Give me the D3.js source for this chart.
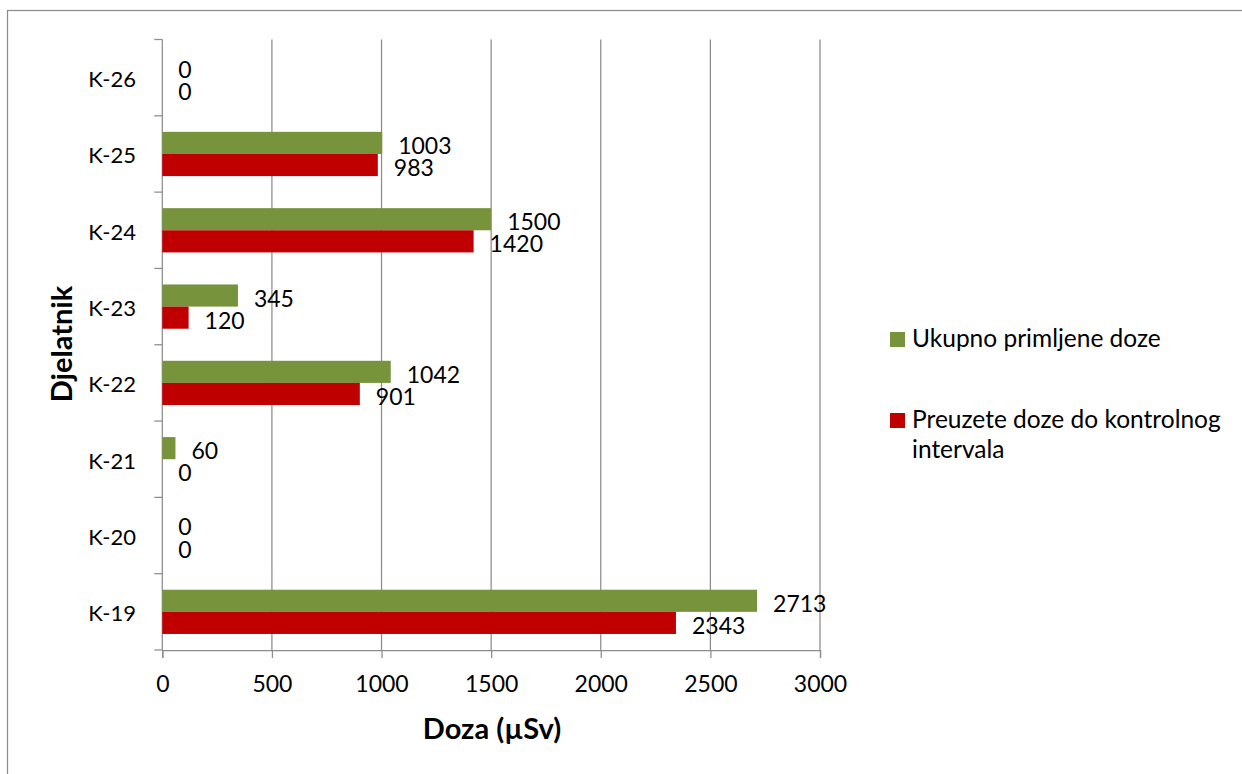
<!DOCTYPE html>
<html>
<head>
<meta charset="utf-8">
<script src="https://cdn.jsdelivr.net/npm/d3@7"></script>
<style>
    body { margin: 0; background: #fff; }
    svg { display: block; font-family: Lato, "Open Sans", sans-serif; }
</style>
</head>
<body>
<div id="chart"></div>
<script>
// values
var categories = ["K-26", "K-25", "K-24", "K-23", "K-22", "K-21", "K-20", "K-19"];
var ukupno = [0, 1003, 1500, 345, 1042, 60, 0, 2713];
var preuzete = [0, 983, 1420, 120, 901, 0, 0, 2343];
var xTicks = [0, 500, 1000, 1500, 2000, 2500, 3000];
var seriesNames = ["Ukupno primljene doze", "Preuzete doze do kontrolnog", "intervala"];
var seriesColors = ["#77933c", "#c00000"];

function drawChart() {
    var width = 1242, height = 774;
    var mLeft = 162.3, mRight = 820, mTop = 39.5, mBottom = 650;
    var gridColor = "#8c8c8c";
    var fs = 23;

    var svg = d3.select("#chart").append("svg")
        .attr("width", width)
        .attr("height", height);

    // outer chart border (right and bottom edges run off the page)
    svg.append("rect")
        .attr("x", 7.5).attr("y", 10.5)
        .attr("width", 1260).attr("height", 800)
        .attr("fill", "none")
        .attr("stroke", "#8c8c8c")
        .attr("stroke-width", 1.25);

    var x = d3.scaleLinear().domain([0, 3000]).range([mLeft, mRight]);
    var y = d3.scaleBand().domain(categories).range([mTop, mBottom])
        .paddingInner(0.42).paddingOuter(0.21);
    var ySub = d3.scaleBand().domain([0, 1]).range([0, y.bandwidth()]);

    // vertical gridlines
    svg.append("g")
        .selectAll("line")
        .data(xTicks.slice(1))
        .join("line")
        .attr("x1", d => x(d)).attr("x2", d => x(d))
        .attr("y1", mTop).attr("y2", mBottom)
        .attr("stroke", gridColor)
        .attr("stroke-width", 1.25);

    // x axis
    var xAxis = svg.append("g")
        .attr("transform", "translate(0," + mBottom + ")")
        .call(d3.axisBottom(x).tickValues(xTicks).tickFormat(d3.format("d")).tickSize(8).tickPadding(18));
    xAxis.select(".domain").attr("stroke", gridColor).attr("stroke-width", 1.25);
    xAxis.selectAll(".tick line").attr("stroke", gridColor).attr("stroke-width", 1.25);
    xAxis.selectAll("text")
        .attr("font-size", fs)
        .attr("font-family", "Lato, sans-serif")
        .attr("fill", "#000");

    // y axis: ticks sit on band boundaries
    var step = (mBottom - mTop) / categories.length;
    svg.append("line")
        .attr("x1", mLeft).attr("x2", mLeft)
        .attr("y1", mTop).attr("y2", mBottom)
        .attr("stroke", gridColor).attr("stroke-width", 1.25);
    svg.append("g")
        .selectAll("line")
        .data(d3.range(categories.length + 1))
        .join("line")
        .attr("x1", mLeft - 8).attr("x2", mLeft)
        .attr("y1", i => mTop + i * step).attr("y2", i => mTop + i * step)
        .attr("stroke", gridColor).attr("stroke-width", 1.25);

    svg.append("g")
        .selectAll("text")
        .data(categories)
        .join("text")
        .attr("x", 136)
        .attr("y", d => y(d) + y.bandwidth() / 2 + 1)
        .attr("text-anchor", "end")
        .attr("dominant-baseline", "central")
        .attr("font-size", 22)
        .text(d => d);

    // bars + value labels
    var series = [ukupno, preuzete];
    series.forEach(function (vals, s) {
        var g = svg.append("g");
        g.selectAll("rect")
            .data(categories)
            .join("rect")
            .attr("x", x(0))
            .attr("y", d => y(d) + ySub(s))
            .attr("width", (d, i) => x(vals[i]) - x(0))
            .attr("height", ySub.bandwidth())
            .attr("fill", seriesColors[s]);
        g.selectAll("text")
            .data(categories)
            .join("text")
            .attr("x", (d, i) => x(vals[i]) + 16)
            .attr("y", d => y(d) + ySub(s) + ySub.bandwidth() / 2 + 2)
            .attr("dominant-baseline", "central")
            .attr("font-size", fs)
            .text((d, i) => vals[i]);
    });

    // axis titles
    svg.append("text")
        .attr("x", 492).attr("y", 739)
        .attr("text-anchor", "middle")
        .attr("font-size", 29)
        .attr("font-weight", "bold")
        .text("Doza (µSv)");

    svg.append("text")
        .attr("transform", "translate(72,344) rotate(-90)")
        .attr("text-anchor", "middle")
        .attr("font-size", 29)
        .attr("font-weight", "bold")
        .text("Djelatnik");

    // legend
    var legend = svg.append("g");
    var legendY = [332, 413];
    legend.selectAll("rect")
        .data(seriesColors)
        .join("rect")
        .attr("x", 890).attr("y", (d, i) => legendY[i])
        .attr("width", 15).attr("height", 15)
        .attr("fill", d => d);
    legend.selectAll("text")
        .data(seriesNames)
        .join("text")
        .attr("x", 912)
        .attr("y", (d, i) => [347, 428, 458][i])
        .attr("font-size", 24.5)
        .text(d => d);
}

drawChart();
</script>
</body>
</html>
